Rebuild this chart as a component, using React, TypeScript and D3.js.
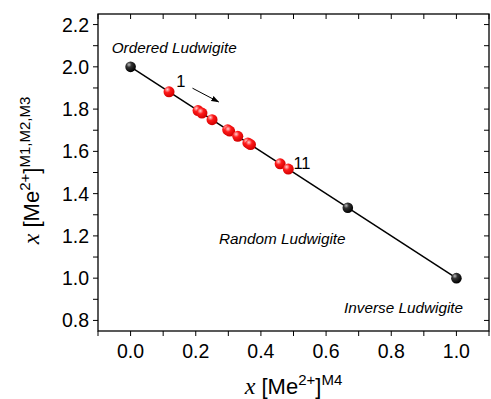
import React from "react";
import * as d3 from "d3";

const endpointX = [0, 0.6667, 1];
const endpointY = [2, 1.3333, 1];
const sampleX = [0.118, 0.207, 0.219, 0.25, 0.298, 0.304, 0.329, 0.36, 0.368, 0.459, 0.484];
const sampleY = [1.882, 1.793, 1.781, 1.75, 1.702, 1.696, 1.671, 1.64, 1.632, 1.541, 1.516];
const lineX = [0, 1];
const lineY = [2, 1];
const xTickLabels = [0, 0.2, 0.4, 0.6, 0.8, 1.0];
const yTickLabels = [0.8, 1.0, 1.2, 1.4, 1.6, 1.8, 2.0, 2.2];
const xMinor = [-0.1, 0, 0.1, 0.2, 0.3, 0.4, 0.5, 0.6, 0.7, 0.8, 0.9, 1.0, 1.1];
const yMinor = [0.8, 0.9, 1.0, 1.1, 1.2, 1.3, 1.4, 1.5, 1.6, 1.7, 1.8, 1.9, 2.0, 2.1, 2.2];

const W = 491, H = 399;
const L = 98, R = 489, T = 14, B = 331;

export default function App() {
  const x = d3.scaleLinear().domain([-0.1, 1.1]).range([L, R]);
  const y = d3.scaleLinear().domain([0.75, 2.25]).range([B, T]);
  const line = d3.line<number>().x((d, i) => x(lineX[i])).y((d, i) => y(lineY[i]));
  const sans = "Liberation Sans, Arial, sans-serif";
  const serif = "Liberation Serif, DejaVu Serif, serif";
  const tk = 5;
  return (
    <svg width={W} height={H} style={{ position: "absolute", left: 0, top: 0, background: "#fff" }}>
      <defs>
        <radialGradient id="gBlack" cx="0.35" cy="0.3" r="0.7">
          <stop offset="0" stopColor="#bbb" />
          <stop offset="0.35" stopColor="#333" />
          <stop offset="1" stopColor="#000" />
        </radialGradient>
        <radialGradient id="gRed" cx="0.35" cy="0.3" r="0.7">
          <stop offset="0" stopColor="#ffd0d0" />
          <stop offset="0.4" stopColor="#ff1a1a" />
          <stop offset="1" stopColor="#d00000" />
        </radialGradient>
        <marker id="arr" viewBox="0 0 10 10" refX="9" refY="5" markerWidth="8" markerHeight="8" orient="auto">
          <path d="M0,1.5 L10,5 L0,8.5 z" fill="#000" />
        </marker>
      </defs>
      <rect x={L} y={T} width={R - L} height={B - T} fill="none" stroke="#000" strokeWidth={1.3} />
      {xMinor.map((v, i) => (
        <g key={"xt" + i}>
          <line x1={x(v)} x2={x(v)} y1={B} y2={B + tk} stroke="#000" strokeWidth={1} />
          <line x1={x(v)} x2={x(v)} y1={T} y2={T + tk} stroke="#000" strokeWidth={1} />
        </g>
      ))}
      {yMinor.map((v, i) => (
        <g key={"yt" + i}>
          <line x1={L - tk} x2={L} y1={y(v)} y2={y(v)} stroke="#000" strokeWidth={1} />
          <line x1={R - tk} x2={R} y1={y(v)} y2={y(v)} stroke="#000" strokeWidth={1} />
        </g>
      ))}
      {xTickLabels.map((v, i) => (
        <text key={"xl" + i} x={x(v)} y={358} textAnchor="middle" fontFamily={sans} fontSize={19.5}>
          {v.toFixed(1)}
        </text>
      ))}
      {yTickLabels.map((v, i) => (
        <text key={"yl" + i} x={89} y={y(v) + 7} textAnchor="end" fontFamily={sans} fontSize={19.5}>
          {v.toFixed(1)}
        </text>
      ))}
      <path d={line(lineX) || ""} stroke="#000" strokeWidth={1.5} fill="none" />
      {sampleX.map((v, i) => (
        <circle key={"s" + i} cx={x(v)} cy={y(sampleY[i])} r={5.5} fill="url(#gRed)" />
      ))}
      {endpointX.map((v, i) => (
        <circle key={"e" + i} cx={x(v)} cy={y(endpointY[i])} r={5.3} fill="url(#gBlack)" />
      ))}
      <text x={x(-0.058)} y={y(2.065)} fontFamily={sans} fontStyle="italic" fontSize={15.3}>Ordered Ludwigite</text>
      <text x={x(0.154)} y={y(1.905)} textAnchor="middle" fontFamily={sans} fontSize={16.5}>1</text>
      <line x1={x(0.19)} y1={y(1.899)} x2={x(0.27)} y2={y(1.834)} stroke="#000" strokeWidth={1} markerEnd="url(#arr)" />
      <text x={x(0.526)} y={y(1.515)} textAnchor="middle" fontFamily={sans} fontSize={16.5}>11</text>
      <text x={x(0.271)} y={y(1.163)} fontFamily={sans} fontStyle="italic" fontSize={15.3}>Random Ludwigite</text>
      <text x={x(0.655)} y={y(0.836)} fontFamily={sans} fontStyle="italic" fontSize={15.3}>Inverse Ludwigite</text>
      <text x={(L + R) / 2} y={394} textAnchor="middle" fontFamily={sans} fontSize={22}>
        <tspan fontFamily={serif} fontStyle="italic" fontSize={24}>x</tspan>
        <tspan> [Me</tspan>
        <tspan fontSize={15} dy={-9}>2+</tspan>
        <tspan dy={9}>]</tspan>
        <tspan fontSize={15} dy={-9}>M4</tspan>
      </text>
      <text transform={`translate(39,${(T + B) / 2 - 2}) rotate(-90)`} textAnchor="middle" fontFamily={sans} fontSize={22}>
        <tspan fontFamily={serif} fontStyle="italic" fontSize={24}>x</tspan>
        <tspan> [Me</tspan>
        <tspan fontSize={15} dy={-9}>2+</tspan>
        <tspan dy={9}>]</tspan>
        <tspan fontSize={15} dy={-9}>M1,M2,M3</tspan>
      </text>
    </svg>
  );
}
